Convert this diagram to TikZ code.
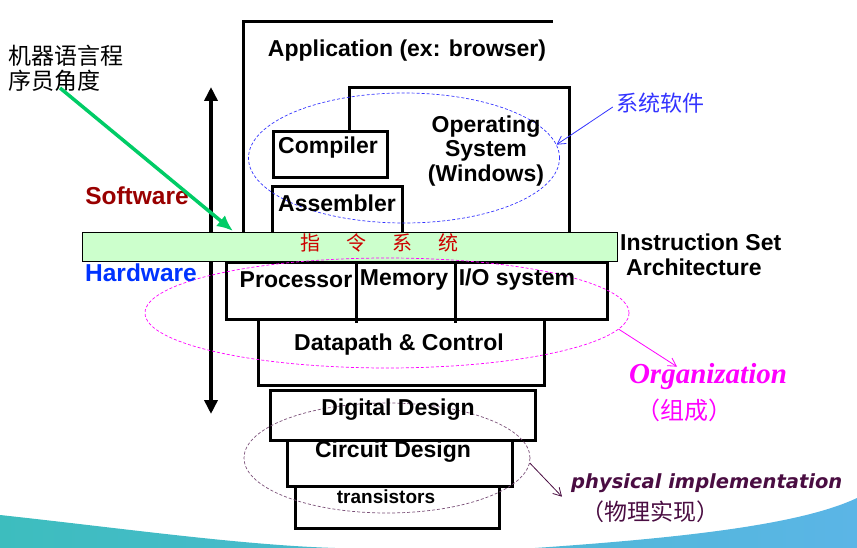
\documentclass[tikz,border=0pt]{standalone}
\usepackage{fontspec}
\setmainfont{Liberation Sans}
\newfontfamily\cjk{Noto Sans CJK SC}
\newfontfamily\orgfont{Liberation Serif}
\newfontfamily\physfont{DejaVu Sans}
\usetikzlibrary{arrows.meta,shapes.geometric}

\definecolor{bandgreen}{HTML}{CCFFCC}
\definecolor{swred}{HTML}{990000}
\definecolor{hwblue}{HTML}{0033FF}
\definecolor{bandred}{HTML}{CC0000}
\definecolor{sysblue}{HTML}{3333FF}
\definecolor{orgpink}{HTML}{FF00FF}
\definecolor{physpurple}{HTML}{4A0D42}
\definecolor{physdash}{HTML}{7A4F77}
\definecolor{arrowgreen}{HTML}{00CC66}
\definecolor{swl}{HTML}{3DBDBE}
\definecolor{swr}{HTML}{5BB5E6}

\tikzset{
  layer/.style={draw, line width=3pt},
  lbl/.style={font=\bfseries\fontsize{23}{24.5}\selectfont, inner sep=0pt},
  ell/.style={ellipse, draw, dashed, dash pattern=on 3pt off 2pt, line width=0.7pt, inner sep=0pt},
  thin arrow/.style={-{Straight Barb[length=8pt,width=9pt]}, line width=0.8pt}
}

\begin{document}
\begin{tikzpicture}[x=1pt,y=-1pt]
\useasboundingbox (0,0) rectangle (857,548);
\shade[left color=swl, right color=swr] (0,515) .. controls (120,528) and (240,545) .. (335,548) -- (0,548) -- cycle
  (535,548) .. controls (680,538) and (800,525) .. (857,498) -- (857,548) -- cycle;

\draw[layer] (243,232) |- (553,22);
\draw[layer] (349,132) |- (569,88) -- (569,232);
\draw[layer] (273,132) rectangle (387,178);
\draw[layer] (272,232) |- (402,187) -- (402,232);
\draw[layer] (226,263) rectangle (607,319);
\draw[layer] (356,263) -- (356,323);
\draw[layer] (455,263) -- (455,323);
\draw[layer] (258,319) rectangle (544,385);
\draw[layer] (270,390) rectangle (535,440);
\draw[layer] (287,440) rectangle (512,486);
\draw[layer] (295,486) rectangle (499,528);

\coordinate (swtop) at (211,87);
\coordinate (hwbot) at (211,414);
\draw[line width=4.5pt, {Triangle[length=14pt,width=13pt]}-{Triangle[length=14pt,width=13pt]}] (swtop) -- (hwbot);

\node[draw, fill=bandgreen, minimum width=535, minimum height=29, inner sep=0pt, line width=0.8pt] (isa) at (350,247) {};
\node[font=\cjk\fontsize{20}{20}\selectfont, text=bandred, inner sep=0pt] (zlxt) at (379,243) {指\hspace{26pt}令\hspace{26pt}系\hspace{26pt}统};

\node[ell, draw=sysblue, minimum width=311, minimum height=130] (syssoft) at (404,158) {};
\node[ell, draw=orgpink, minimum width=484, minimum height=110] (orgell) at (387,313) {};
\node[ell, draw=physdash, minimum width=286, minimum height=110] (physell) at (387,458) {};

\node[lbl] (app) at (407,51) {Application (ex: browser)};
\node[lbl] (comp) at (328,148) {Compiler};
\node[lbl] (asm) at (337,203) {Assembler};
\node[lbl, align=center] (os) at (486,151) {Operating\\System\\(Windows)};
\node[lbl] (proc) at (296,280) {Processor};
\node[lbl] (mem) at (404,280) {Memory};
\node[lbl] (io) at (517,280) {I/O system};
\node[lbl] (dp) at (399,345) {Datapath \& Control};
\node[lbl] (dd) at (398,410) {Digital Design};
\node[lbl] (cd) at (393,452) {Circuit Design};
\node[lbl, font=\bfseries\fontsize{19}{20}\selectfont] (tr) at (386,497) {transistors};
\node[lbl, align=left, anchor=north west] (isatxt) at (620,234) {Instruction Set\\\hspace{6pt}Architecture};

\node[lbl, font=\bfseries\fontsize{24.5}{25}\selectfont, text=swred] (sw) at (137,196) {Software};
\node[lbl, font=\bfseries\fontsize{24.5}{25}\selectfont, text=hwblue] (hw) at (141,273) {Hardware};

\node[font=\cjk\fontsize{23}{25}\selectfont, align=left, anchor=north west, inner sep=0pt] (mlang) at (8,45) {机器语言程\\序员角度};
\coordinate (gtip) at (233,231);
\draw[line width=3.5pt, arrowgreen, -{Latex[length=16pt,width=14pt]}] (60,88) -- (gtip);

\node[font=\cjk\fontsize{22}{22}\selectfont, text=sysblue, inner sep=0pt] (xtrj) at (660,103) {系统软件};
\draw[thin arrow, sysblue] ([xshift=-3pt,yshift=-4pt]xtrj.west) -- (syssoft.5);

\node[font=\orgfont\bfseries\itshape\fontsize{29}{30}\selectfont, text=orgpink, inner sep=0pt] (org) at (708,377) {Organization};
\node[font=\cjk\fontsize{24}{24}\selectfont, text=orgpink, inner sep=0pt] (zc) at (684,410) {（组成）};
\draw[thin arrow, orgpink] (orgell.-4) -- ([xshift=-31pt,yshift=-3pt]org.north);

\node[font=\physfont\bfseries\itshape\fontsize{19.5}{22}\selectfont, text=physpurple, inner sep=0pt, anchor=west] (phys) at (571,483) {physical implementation};
\node[font=\cjk\fontsize{23}{23}\selectfont, text=physpurple, inner sep=0pt] (wlsx) at (650,512) {（物理实现）};
\draw[thin arrow, physpurple] (physell.-2) -- ([xshift=-9pt,yshift=-4pt]phys.south west);
\end{tikzpicture}
\end{document}
